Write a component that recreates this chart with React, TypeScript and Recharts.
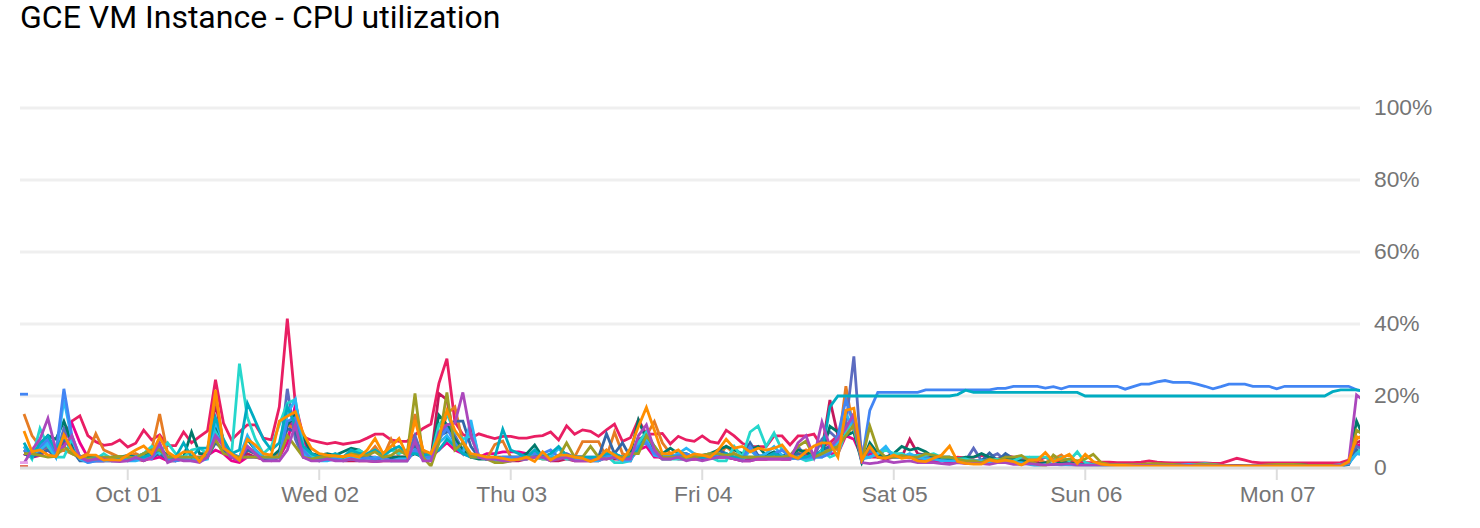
import { LineChart, Line, XAxis, YAxis, CartesianGrid } from 'recharts';

const TICK_HOURS = [13, 37, 61, 85, 109, 133, 157];
const TICK_LABELS = ['Oct 01', 'Wed 02', 'Thu 03', 'Fri 04', 'Sat 05', 'Sun 06', 'Mon 07'];
const PERCENT_TICKS = [0, 20, 40, 60, 80, 100];

const crimson = [
  4,3,5,8,4,8,6,3,2,2,
  2,2,2,2.5,2.5,2,3,4,2,2,
  2.5,2.5,2,3,18,7,3,2,4,3,
  2.5,2.5,3,12,13,4,2.5,2,2.5,2.5,
  2,2,2,2,1.8,2,2,2,2,5,
  2.5,2.5,20.7,19,7,4,12,3,2.5,2,
  2,2,2,2.5,3,3,2,2,2.5,2,
  2,2,2,3,2.5,2.5,2,8,9,4,
  2.5,2.5,3,2.5,2.5,2.5,3,3,3,2.5,
  2,2.5,2.5,2.5,3,2.5,2.5,4,4,3,
  5,18.9,9,12,13,2,5,3,2.5,3,
  3,8,4,3.5,3,2.5,2,2,2,2,
  2,2,2,2.5,2,2.5,2,1.5,1,1,
  1,1,0.8,0.7,0.7,0.7,0.7,0.7,0.7,0.6,
  0.7,0.7,0.7,0.7,0.7,0.6,0.6,0.6,0.6,0.6,
  0.6,0.6,0.6,0.5,0.6,0.6,0.6,0.5,0.5,0.5,
  0.5,0.5,0.5,0.5,0.5,0.6,1.2,7,8,
];
const pink = [
  4,3.5,5,6,4,9,13,14.5,9,7.3,
  6.3,6.6,7.8,5.8,6.9,10.5,7.8,9.2,6.2,6.2,
  10,7,8.7,10.3,24.5,12.5,7.8,10,12,12,
  8.3,7.8,17,41.5,18,8.7,7.7,7.2,6.7,7.1,
  6.6,7,7.3,8.3,9.4,9.4,7.8,7.4,7.4,9.2,
  11,12.2,23.5,30.4,12.8,9.3,8.3,9.5,8.8,8.2,
  8.8,8.8,8.3,8.3,8.8,9,10,7.8,11.7,9.4,
  10.6,10.2,8.8,10.6,12.2,7.4,8.4,13.4,9.4,9.4,
  9.6,6.7,8.8,7.8,7.4,8.9,7.3,6.9,10.5,8.9,
  6.9,5.9,5.9,5.9,8.9,8.9,6.4,8.9,8.9,9.4,
  5.9,7,9,11,15,5,3,3,5.5,3,
  3,3.2,3.5,3,2.5,2.5,2.5,3,2.8,3,
  3.5,3,2.5,3.5,3,2.5,2.5,2,3,2,
  2,2,1.8,1.5,1.5,1.6,1.6,1.5,1.5,1.5,
  1.6,2,1.6,1.5,1.4,1.4,1.4,1.4,1.4,1.3,
  1.3,2,2.7,2.2,1.6,1.4,1.4,1.4,1.4,1.4,
  1.4,1.4,1.4,1.4,1.4,1.5,2.2,6,7,
];
const magenta = [
  4,3,3.5,5,3,7,12.5,7,3,2,
  2,2.5,2,2.5,2.5,2.5,2.5,3,2,2.5,
  2.5,3,3,3.5,5,4,2,1.5,3,3,
  2.5,2,3,7,17.5,8,3,3,2.5,2.5,
  2.5,3,4,3,3,2.5,3,3,3,6,
  4,3,5,7,5,4,3.5,3,4,4,
  4.5,4.5,4.5,4,3.5,3.5,2.5,3,3,3,
  3,2.5,3,3,3,2,2.5,5,6,3,
  3,3,2.5,2.5,2.5,3,3,3,3,2.5,
  2,2,2.5,2.5,2.5,2.5,2.5,3,3,3,
  4,4,4,9,8,3,4,3,3,4,
  3,3,2.5,2,2,2,1.5,1.5,1.5,1.5,
  1.5,1.5,1.5,1.5,1.5,1.2,1.2,1,1,1,
  1,0.9,0.9,0.9,0.9,0.8,0.8,0.8,0.8,0.8,
  0.8,0.7,0.7,0.7,0.7,0.7,0.7,0.7,0.7,0.7,
  0.7,0.7,0.7,0.6,0.6,0.6,0.6,0.6,0.6,0.6,
  0.6,0.6,0.6,0.6,0.6,0.7,1.1,6,7,
];
const burnt = [
  15,9,6,5,4,5,4,3,4,9.5,
  5,4,3,3,4,3,5,15,4,3,
  3,3,2.5,4,20,7,4,3,5,4,
  3,3,4,12,11,5,3,3,3,3,
  3,2.5,3,3.5,6,3,8,3,3,15,
  5,3,7,15,17,7,3.5,3,2.5,6.5,
  7.5,3,3,2.5,3,2.5,2.5,2.5,3.5,3,
  7.3,7.3,7.3,3,10,4,3,7,9,12.9,
  7,4,3,3,3,3,3,3,6,4,
  3,3,3,3,4,3,2.5,4,5,3,
  4,6,5,22.7,10,2.5,6,4,3,3,
  3,3,3,3.5,3,3,3,2,2,1.5,
  1.5,2,2,3.5,2.5,1.5,3,2.5,1.5,2.5,
  3.6,1.5,1,1,0.7,0.6,0.7,0.7,0.6,0.6,
  0.6,0.7,0.6,0.6,0.5,0.5,0.5,0.6,0.5,0.5,
  0.5,0.5,0.5,0.4,0.4,0.4,0.5,0.5,0.5,0.5,
  0.5,0.5,0.5,0.5,0.5,0.6,1.2,8,9.5,
];
const indigo = [
  5,3,5,6,3,11,7,2.5,2,2.5,
  2.5,2.5,2,2.5,2.5,2.5,3,5,2,2,
  3,2.5,2.5,3,12,6,3,3,6,4,
  2.5,2.5,3,22,8,3,2.5,2.5,3,3,
  2.5,3,3,2.5,2.5,3,3,3,3,9,
  3,3,9,12,9,5,3,3,2.5,2.5,
  2.5,2.5,3,3,4,3,3,3,4,3,
  3,3,3,5,3.5,3,3,7,10,4,
  3,3,3,3,3,3,3.5,4,3,3,
  3,5,3,3,3,3,3,6,3,3,
  8,10,8,12,31,2,5,3,3,3,
  3,3,2.5,3,2.5,2.5,2.5,2,2,5.5,
  2,3,4,2,2,2,1.5,1,1,1,
  1,1,1,1,0.8,0.8,0.8,0.7,0.7,0.7,
  0.6,0.7,0.7,0.8,0.7,0.7,0.6,0.6,0.6,0.6,
  0.6,0.6,0.5,0.5,0.5,0.6,0.5,0.5,0.5,0.5,
  0.5,0.5,0.5,0.5,0.5,0.6,1,6,5,
];
const navy = [
  4,3,4,5,3,8,5,2,2,2.5,
  2.5,2,2,2.5,3,3,3,4,2.5,2.5,
  3,3,2.5,3,7,5,3,2.5,5,4,
  2.5,2.5,3,11,10,4,3,3,3,3,
  3,4.5,3,3,2.5,3,2.5,2.5,3,6,
  3,2.5,9,10,13,13,6,3,2.5,2.5,
  2.5,2.5,2.5,3,3.5,3,2.5,3,3,3,
  3,2.5,3,9.5,4,7,3,6,9,5,
  3,3,3,3,3,3,3,5,4,3,
  3,7,3.5,3,4,3,3,4,3,3,
  5,6,7,10,14,2,6,3.5,3,3.5,
  4,3,3.5,4,3,3,3,2.5,2,2,
  2,4.2,2,4,2.5,2,1.5,1,1,1,
  0.9,1,0.8,0.8,0.7,0.7,0.7,0.6,0.6,0.6,
  0.6,0.6,0.6,0.7,0.7,0.6,0.6,0.5,0.5,0.5,
  0.5,0.5,0.5,0.5,0.5,0.5,0.5,0.4,0.4,0.4,
  0.4,0.4,0.4,0.4,0.4,0.5,1,5,4,
];
const darkTeal = [
  5,4,6,9,8,13,7,3,3,3,
  2.5,3,3,3.5,3,4,3.5,6,3,3,
  3,10,4,4,11,6,3.5,3,8,5,
  3,3,5,12,14.7,9,4,3.5,4,3.5,
  4.5,5.5,5,3.5,2.5,2.5,3,3,3,4,
  3,3,14.7,12,8,5,3,2.5,2.5,3,
  3,3,3,4,6.4,3,2.5,3,3,2.5,
  2.5,2,2.5,3,3,3,4,13.3,8,4,
  4,5.5,4,4,3,3.5,4,5,6,5,
  4,5,6,3.5,4.5,3.5,3.5,5,4.5,3,
  4,11.6,10,9,10,1.5,7,4,3,4,
  6,5,5.5,4.5,3,3,2.5,2.5,3,3,
  4,3,2,3,2.5,2,2,1,1.5,1,
  1.5,1.5,1,1,0.9,0.7,0.7,0.7,0.5,0.5,
  0.5,0.5,0.7,0.8,1,0.8,0.7,0.6,0.5,0.5,
  0.5,0.5,0.5,0.5,0.5,0.5,0.5,0.6,0.7,0.9,
  0.9,0.7,0.5,0.5,0.5,0.6,1.2,13,8,
];
const cyan = [
  6,2.5,11,6,3,3,8,3,2,2.5,
  4,2.5,3,2.5,3,4,6,4,7,4,
  3,5,5.5,4,10,6,3.5,29,14,8,
  4,6,12,18,19,6,3,3,3,3,
  3,4,5,3.5,5,3,5,4,5,5,
  3,3,12,15,10,8,9,3,3,2.5,
  2.5,2.5,2.5,3,3,2.5,2.5,3.5,2.5,2.5,
  2.5,2,3,3.5,1.5,1.5,2,7,10,6,
  2.5,2.5,2.5,2.5,3,3.5,3,2,2,6,
  3,10,11.7,6,9.7,5,3,3,2,2.5,
  5,3,4,10,14,3,3,4,5,4,
  4,3,3.5,3.5,4,3,3,2.5,2.5,2,
  2,2,2.5,2,2,3,3,3,3,2,
  3,2,4.5,1.5,0.9,0.9,0.9,0.8,0.8,0.8,
  0.8,0.8,0.8,0.8,0.8,0.8,0.8,1,1.2,1,
  0.7,0.5,0.4,0.4,0.7,0.7,0.7,0.7,0.7,0.7,
  0.7,0.7,0.7,0.7,0.7,0.9,1.5,4,6,
];
const sky = [
  6,4,5,7,3,19,8,2.5,1.5,2,
  2,2,2.5,2,2,2.5,3,5,2.5,2,
  2.5,2.5,2,2.5,13,7,4,3,9,5,
  3,3,3,15,19,4,2.5,2,2,2.5,
  2.5,3,2.5,2.5,3,2.5,2,2.5,2.5,5,
  2.5,2.5,7,9,6,4,13.3,3,2.5,2,
  2,2,2.5,2.5,3,3,3,5.5,3,2.5,
  2.5,2,2,3,3,2,2,6,8,3.5,
  3,3,4,5.5,4,3,3,4,3.5,3,
  2,5,3,4,6,3.5,2.5,3,2.5,3,
  3,5,7,15,11,2.5,3,4,6,3,
  3,4,3,2.5,2.5,2,2,2,1.5,1.5,
  2,1.5,1.5,1.5,1.5,1.5,1,0.5,1,1,
  0.9,0.9,0.9,0.8,0.8,0.8,0.8,0.8,0.7,0.7,
  0.7,0.8,0.9,0.8,0.8,0.8,1,0.9,0.8,0.6,
  0.4,0.4,0.4,0.5,0.6,0.7,0.7,0.7,0.6,0.6,
  0.6,0.6,0.6,0.6,0.6,0.7,1.2,4,3.5,
];
const blue = [
  5,4,6,8,4,22,9,3,1.5,2,
  2,3,2.5,2,2.5,3,2.5,6,2.5,2,
  2.5,2,2,3,9,7,4,3,3,3,
  3,2.5,3,13,14,5,2.5,2,2.5,2.5,
  2,2.5,2,3,2.5,3,2,2,2,5,
  3,3,8,11,7,4,3,3,2.5,2.5,
  3,3,3,3,4,4,5,3,3,3,
  3,2.5,3,3.5,4,3,3,6,7,4,
  3,3,3.5,4,3,3,3,4,3,3,
  2.5,6,3,3,4,5,3,2.5,3,3,
  3,4,9,19,12,1.8,16,21,21,21,
  21,21,21,21.7,21.7,21.7,21.7,21.7,21.7,21.7,
  21.7,21.7,22.1,22.1,22.7,22.7,22.7,22.7,22.2,22.6,
  22,22.7,22.7,22.7,22.7,22.7,22.7,22.7,21.9,22.6,
  23.3,23.3,23.9,24.3,23.8,23.8,23.8,23.3,22.7,22,
  22.6,23.3,23.3,23.3,22.7,22.7,22.7,22,22.7,22.7,
  22.7,22.7,22.7,22.7,22.7,22.7,22.7,21.7,21.2,
];
const teal = [
  7,3,7,9,5,9,5,3,2.5,3,
  3,2.5,3,3,3,3,4,5,3,3,
  7,3,5.5,5.5,14,8,4,5,18,13,
  8,5,7,17,12,6,4,3,3,4,
  3,5,4,4,5,3.5,5,6,4,4,
  3.5,4,5,8,6,4,3,3,3,3,
  10.8,5,4,3,5,3,4,6,3.5,3,
  3,3,3,4,4,3,3,5,9,6,
  3,3,3,3,3,3,3,3,4,3,
  3,3,3,3,4,3,3,3,3,4,
  4,17,20,20,20,20,20,20,20,20,
  20,20,20,20,20,20,20,20.4,21.6,21,
  21,21,21,21,21,21,21,21,21,21,
  21,21,21,20,20,20,20,20,20,20,
  20,20,20,20,20,20,20,20,20,20,
  20,20,20,20,20,20,20,20,20,20,
  20,20,20,20,21.2,21.7,21.7,21.7,21.4,
];
const olive = [
  4,4,3.5,3,3.2,6,4,3,2.5,2.5,
  3,3,3.2,3,2.8,4,5,5,3,3,
  3,3,3,3,8,4,3.5,3,3,3,
  3,3,3,9,6,3,2.5,3,3,3.5,
  3,4,3.5,3.5,4.5,3,3.5,5,3.5,20.7,
  3,0.5,7,21,5,7,3,3,2.5,1.5,
  1.5,2,2.5,3,3,3,2.5,3,7,3,
  3,6,3,2.5,3,3,4,4,9,6,
  3,3,3,3,3,3.5,4,4,3.5,4,
  3,3,3,3,3,3,3.5,6,7.5,3,
  4,5,6,9,12,2,11.6,5,3,3,
  3.5,3,3,4,3.5,3,3,2.5,2,2,
  1.5,2.5,2,3,3,3.5,2,1,0.5,3.6,
  2,2.5,2,2.5,3.8,1.5,1,1,0.9,0.9,
  1,1.2,1.2,1.1,1,0.8,0.7,0.9,1,0.9,
  0.7,0.6,0.5,0.6,0.6,0.7,0.9,1,1,1,
  0.9,0.7,0.7,0.7,0.7,0.8,1.5,10.5,9,
];
const purple = [
  1.3,5,8,13.8,5,6,9,3,2,2.5,
  2.5,2,1.8,2,3,2,3,7,1.5,2.5,
  2,2,1.5,3,9,6,3,2,6,4,
  2,2,2,5,12,3,2,2,2.5,2,
  2,2.5,2,2,1.8,2,2,2,2,7.5,
  2,2,10,12,12.5,21,9,3,2.5,2.5,
  2,2,2.5,2.5,3,3,2,2.5,3,2,
  2,2,2.5,2.5,3,2.5,2.5,9,12,5,
  2.5,2.5,3,2,2.5,2,2.5,3,3,2.5,
  2,2,2.5,2.5,2.5,2.5,2.5,7,9,3,
  12.8,6,8,11,15,1.5,1.2,1.5,2,1.5,
  1.8,2,1.5,1.5,1.5,1.2,1,1.5,1.2,1.2,
  1.2,1,1.5,1.5,1,1,1.2,1,0.8,1,
  1,1.2,0.8,0.8,0.8,0.8,0.8,0.8,0.8,0.7,
  0.7,0.7,0.6,0.6,0.6,0.6,0.7,0.6,0.6,0.6,
  0.6,0.6,0.5,0.5,0.6,0.6,0.6,0.5,0.5,0.5,
  0.5,0.5,0.5,0.5,0.6,0.8,1.5,20.3,18.5,
];
const amber = [
  10.3,4.5,5,3.6,3.2,9.2,5,2.8,3.6,3.6,
  2.2,2.3,2.2,3.6,5,6.1,4,8.6,4.5,3,
  4.5,4.5,1.8,5,21.7,5.5,4,2.2,8,6.4,
  4,3.6,13,14.4,15.6,9.6,5.5,4,3.6,3.3,
  3.2,3.6,3,5,8.2,4,6,8.2,3.6,13.3,
  5,4,8.7,16,10.5,7.3,4,3.6,3,3,
  2.7,2.2,2.4,3,1.8,4.5,2.2,3.6,3.6,3,
  2.7,1.8,2.7,5,3.6,2.2,5.5,11.5,16.8,10.5,
  4,4,5,3,3.9,3.6,3,5,8,5.5,
  6,4.5,5.5,5,5.5,6.4,3.6,2.7,4.5,6.1,
  7,6.9,3,16,16.6,2.2,6,3,2.7,3.6,
  2.7,3,2,1.8,2.7,3.6,6.1,1.8,1.3,1.1,
  1.1,2.2,1.8,2.2,1.8,0.8,2.2,2.2,4.3,1.8,
  2.7,3.8,1.3,3.8,1.8,1.1,0.8,0.7,0.7,0.6,
  0.5,0.5,0.5,0.5,0.5,0.5,0.5,0.5,0.5,0.5,
  0.5,0.5,0.5,0.5,0.5,0.5,0.5,0.5,0.5,0.5,
  0.5,0.5,0.5,0.5,0.5,0.5,1.8,8.7,7.8,
];

// lone samples at the left edge, drawn by Monitoring as short dashes
const blueStub = [20.5, 20.5];
const lilacStub = [1.5, 1.5];
const redStub = [0.4, 0.4];
const STUB_HOURS = [-0.5, 0.5];

const SERIES: { name: string; values: number[]; color: string }[] = [
  { name: 'crimson', values: crimson, color: '#c2185b' },
  { name: 'pink', values: pink, color: '#e91e63' },
  { name: 'magenta', values: magenta, color: '#ec008c' },
  { name: 'burnt', values: burnt, color: '#e67c24' },
  { name: 'indigo', values: indigo, color: '#5c6bc0' },
  { name: 'navy', values: navy, color: '#3367a8' },
  { name: 'darkTeal', values: darkTeal, color: '#00796b' },
  { name: 'cyan', values: cyan, color: '#26d7cc' },
  { name: 'sky', values: sky, color: '#29b6f6' },
  { name: 'blue', values: blue, color: '#4285f4' },
  { name: 'teal', values: teal, color: '#00acc1' },
  { name: 'olive', values: olive, color: '#9e9d24' },
  { name: 'purple', values: purple, color: '#ab47bc' },
  { name: 'amber', values: amber, color: '#ff8f00' },
];

const STUBS = [
  { name: 'blueStub', values: blueStub, color: '#4285f4' },
  { name: 'lilacStub', values: lilacStub, color: '#e6a0e8' },
  { name: 'redStub', values: redStub, color: '#e0573a' },
];

const rows = crimson.map((_, hour) => {
  const row: Record<string, number> = { hour };
  SERIES.forEach((s) => {
    row[s.name] = s.values[hour];
  });
  return row;
});

const formatHour = (hour: number) => TICK_LABELS[TICK_HOURS.indexOf(hour)] ?? '';
const formatPercent = (v: number) => (v === 0 ? '0' : `${v}%`);

export default function App() {
  return (
    <div style={{ position: 'absolute', left: 0, top: 0, width: 1480, height: 528, background: '#fff' }}>
      <div
        style={{
          position: 'absolute',
          left: 20,
          top: 0,
          fontFamily: 'Roboto',
          fontSize: 32,
          lineHeight: '35px',
          color: '#000',
          whiteSpace: 'nowrap',
        }}
      >
        GCE VM Instance - CPU utilization
      </div>
      <LineChart
        width={1480}
        height={528}
        data={rows}
        margin={{ top: 108, right: 0, bottom: 0, left: 20 }}
        style={{ fontFamily: '"Liberation Sans", Arial, sans-serif' }}
      >
        <CartesianGrid horizontal vertical={false} stroke="#efefef" strokeWidth={3} />
        <XAxis
          dataKey="hour"
          type="number"
          domain={[-0.5, 167.43]}
          allowDataOverflow
          ticks={TICK_HOURS}
          tickFormatter={formatHour}
          interval={0}
          height={60}
          tickSize={12}
          tickMargin={6}
          axisLine={{ stroke: '#dddddd', strokeWidth: 3 }}
          tickLine={{ stroke: '#dddddd', strokeWidth: 2 }}
          tick={{ fill: '#757575', fontSize: 22.8, dx: 1 }}
        />
        <YAxis
          orientation="right"
          domain={[0, 100]}
          ticks={PERCENT_TICKS}
          tickFormatter={formatPercent}
          width={120}
          axisLine={false}
          tickLine={false}
          tickMargin={8}
          tick={{ fill: '#757575', fontSize: 22.8, dy: -1 }}
        />
        {SERIES.map((s) => (
          <Line
            key={s.name}
            dataKey={s.name}
            type="linear"
            stroke={s.color}
            strokeWidth={2.8}
            dot={false}
            isAnimationActive={false}
          />
        ))}
        {STUBS.map((s) => (
          <Line
            key={s.name}
            data={STUB_HOURS.map((hour, i) => ({ hour, [s.name]: s.values[i] }))}
            dataKey={s.name}
            type="linear"
            stroke={s.color}
            strokeWidth={2.8}
            dot={false}
            isAnimationActive={false}
          />
        ))}
      </LineChart>
    </div>
  );
}
